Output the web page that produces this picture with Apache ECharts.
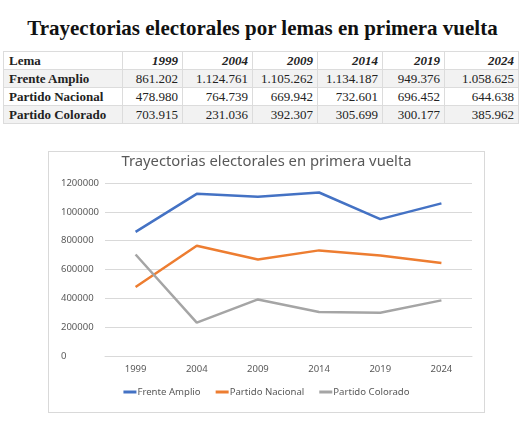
<!DOCTYPE html>
<html>
<head>
<meta charset="utf-8">
<script src="https://cdn.jsdelivr.net/npm/echarts@6/dist/echarts.min.js"></script>
<style>
body{margin:0;background:#fff;width:529px;height:426px;position:relative;overflow:hidden}
#titulo{position:absolute;left:0;top:16px;width:525px;text-align:center;font:bold 21px "Liberation Serif",serif;color:#111}
#tabla{position:absolute;left:3px;top:51px;border-collapse:collapse;font:13px "Liberation Serif",serif;color:#222;table-layout:fixed}
#tabla td{border:1px solid #dcdcdc;height:17px;padding:0 4px;text-align:right;white-space:nowrap}
#tabla td:first-child{text-align:left;font-weight:bold;padding-left:5px}
#tabla tr.head td{font-weight:bold;font-style:italic}
#tabla tr.head td:first-child{font-style:normal}
#tabla tr.gris td{background:#f2f2f2}
#caja{position:absolute;left:48px;top:151px;width:437px;height:262px;border:1px solid #d9d9d9;box-sizing:border-box}
#main{width:435px;height:260px}
</style>
</head>
<body>
<div id="titulo">Trayectorias electorales por lemas en primera vuelta</div>
<table id="tabla"></table>
<div id="caja"><div id="main"></div></div>
<script>
// datos
var anios = ['1999','2004','2009','2014','2019','2024']
var lemas = ['Frente Amplio','Partido Nacional','Partido Colorado']
var frenteAmplio = [861202,1124761,1105262,1134187,949376,1058625]
var partidoNacional = [478980,764739,669942,732601,696452,644638]
var partidoColorado = [703915,231036,392307,305699,300177,385962]
var colores = ['#4472C4','#ED7D31','#A5A5A5']
var anchos = [119,60,70,65,65,62,74]

function fmt(n){
	return String(n).replace(/\B(?=(\d{3})+(?!\d))/g,'.')
}

// tabla
var filas = [frenteAmplio,partidoNacional,partidoColorado]
var htmls = '<colgroup>'
for (var k=0;k<anchos.length;k++) {
	htmls += '<col style="width:'+anchos[k]+'px">'
}
htmls += '</colgroup><tr class="head"><td>Lema</td>'
for (var i=0;i<anios.length;i++) {
	htmls += '<td>'+anios[i]+'</td>'
}
htmls += '</tr>'
for (var j=0;j<filas.length;j++) {
	htmls += '<tr class="'+(j%2==0?'gris':'')+'"><td>'+lemas[j]+'</td>'
	for (var i=0;i<filas[j].length;i++) {
		htmls += '<td>'+fmt(filas[j][i])+'</td>'
	}
	htmls += '</tr>'
}
document.getElementById('tabla').innerHTML = htmls

// grafico
var chart = echarts.init(document.getElementById('main'))
var fuente = '"Noto Sans", sans-serif'
var option = {
	animation: false,
	color: colores,
	title: {
		text: 'Trayectorias electorales en primera vuelta',
		left: 'center',
		top: 2,
		padding: 0,
		textStyle: {color: '#595959', fontSize: 14.8, fontWeight: 'normal', fontFamily: fuente}
	},
	legend: {
		data: lemas,
		left: 'center',
		top: 235,
		padding: 0,
		itemGap: 15,
		itemWidth: 13,
		itemHeight: 3,
		icon: 'rect',
		textStyle: {color: '#595959', fontSize: 9.6, fontFamily: fuente, padding: [0,0,0,-4]}
	},
	grid: {left: 56, right: 12, top: 31, bottom: 56},
	xAxis: {
		type: 'category',
		data: anios,
		boundaryGap: true,
		axisLine: {lineStyle: {color: '#d9d9d9'}},
		axisTick: {show: false},
		axisLabel: {color: '#595959', fontSize: 9.5, fontFamily: fuente, margin: 8}
	},
	yAxis: {
		type: 'value',
		min: 0,
		max: 1200000,
		interval: 200000,
		axisLine: {show: false},
		axisTick: {show: false},
		splitLine: {lineStyle: {color: '#d9d9d9'}},
		axisLabel: {
			color: '#595959', fontSize: 9.5, fontFamily: fuente, align: 'left', margin: 44,
			formatter: function (v) { return String(v) }
		}
	},
	series: [
		{name: lemas[0], type: 'line', data: frenteAmplio, showSymbol: false, lineStyle: {width: 2.5}},
		{name: lemas[1], type: 'line', data: partidoNacional, showSymbol: false, lineStyle: {width: 2.5}},
		{name: lemas[2], type: 'line', data: partidoColorado, showSymbol: false, lineStyle: {width: 2.5}}
	]
}
chart.setOption(option)
</script>
</body>
</html>
